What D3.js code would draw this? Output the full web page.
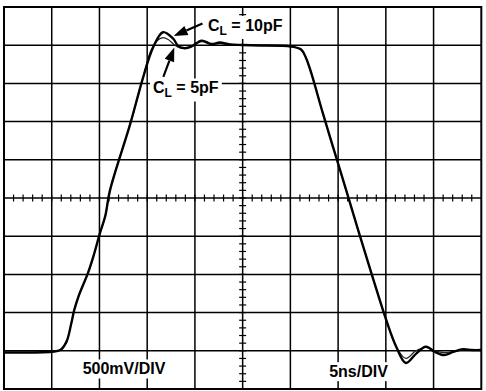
<!DOCTYPE html>
<meta charset="utf-8">
<script src="https://d3js.org/d3.v7.min.js"></script>
<style>
  body { margin: 0; background: #fff; }
  text { font-family: "Liberation Sans", Arial, sans-serif; font-weight: bold; }
</style>
<div id="scope"></div>
<script>
var width = 486
var height = 391

// time in ns (5ns/DIV), level in V (500mV/DIV)
var gridTimes = d3.range(0, 51, 5)
var gridVolts = d3.range(0, 5.01, 0.5)

// C_L = 10pF trace  [ns, V]
var trace10pF = [
  [0, 0.478], [5.0, 0.488], [5.9, 0.51], [6.55, 0.62], [7.05, 0.86], [7.35, 1.03],
  [7.8, 1.21], [8.8, 1.52], [9.35, 1.73], [10.05, 2.04], [10.6, 2.26], [11.1, 2.6],
  [13.2, 3.46], [14.6, 4.09], [15.65, 4.48], [16.65, 4.67], [17.7, 4.59], [18.25, 4.49],
  [18.95, 4.46], [19.6, 4.48], [20.7, 4.56], [21.75, 4.515], [22.6, 4.535], [23.65, 4.51],
  [25, 4.503], [26.8, 4.497], [30.05, 4.483], [31.15, 4.44], [31.65, 4.33], [32.2, 4.13],
  [33.4, 3.61], [35, 2.95], [35.85, 2.6], [37.1, 2.08], [38.5, 1.51], [40.05, 0.9],
  [41.1, 0.55], [42.1, 0.34], [43.15, 0.46], [44.2, 0.555], [45.15, 0.485], [46.1, 0.445],
  [47.05, 0.485], [48.1, 0.52], [49, 0.51], [50, 0.51]
]

// C_L = 5pF trace  [ns, V]
var trace5pF = [
  [0, 0.478], [5.0, 0.488], [5.9, 0.51], [6.55, 0.62], [7.05, 0.86], [7.35, 1.03],
  [7.8, 1.21], [8.8, 1.52], [9.35, 1.73], [10.05, 2.04], [10.6, 2.26], [11.1, 2.6],
  [13.2, 3.46], [14.6, 4.09], [15.3, 4.40], [16.0, 4.555], [16.65, 4.60], [17.2, 4.575],
  [17.9, 4.50], [18.45, 4.465], [19.05, 4.458], [19.6, 4.48], [20.7, 4.545], [21.75, 4.51],
  [22.6, 4.525], [23.65, 4.51], [25, 4.503], [26.8, 4.497], [30.05, 4.483], [31.15, 4.44],
  [31.65, 4.33], [32.2, 4.13], [33.4, 3.61], [35, 2.95], [35.85, 2.6], [37.1, 2.08],
  [38.5, 1.51], [40.05, 0.9], [41.1, 0.55], [42.1, 0.40], [43.15, 0.50], [44.2, 0.545],
  [45.15, 0.50], [46.1, 0.475], [47.05, 0.49], [48.1, 0.515], [49, 0.51], [50, 0.51]
]

// annotations, in ns / V
var labels = [
  { main: "C", sub: "L", rest: " = 10pF", t: 21.37, v: 4.686, anchor: "start" },
  { main: "C", sub: "L", rest: " = 5pF", t: 15.61, v: 3.868, anchor: "start" },
  { main: "500mV/DIV", sub: "", rest: "", t: 12.57, v: 0.19, anchor: "middle" },
  { main: "5ns/DIV", sub: "", rest: "", t: 37.14, v: 0.155, anchor: "middle" }
]
var arrows = [
  { t0: 20.79, v0: 4.784, t1: 17.76, v1: 4.62 },
  { t0: 16.69, v0: 4.084, t1: 17.84, v1: 4.47 }
]

var svg = d3.select("#scope")
  .append("svg")
    .attr("width", width)
    .attr("height", height)

var x = d3.scaleLinear().domain([0, 50]).range([4, 481.3])
var y = d3.scaleLinear().domain([0, 5]).range([389, 7])

// grid
svg.append("g")
  .selectAll("line")
  .data(gridTimes.slice(1, -1))
  .enter().append("line")
    .attr("x1", function(d){ return x(d) })
    .attr("x2", function(d){ return x(d) })
    .attr("y1", y(5))
    .attr("y2", y(0))
    .style("stroke", "black")
    .style("stroke-width", 1.5)

svg.append("g")
  .selectAll("line")
  .data(gridVolts.slice(1, -1))
  .enter().append("line")
    .attr("y1", function(d){ return y(d) })
    .attr("y2", function(d){ return y(d) })
    .attr("x1", x(0))
    .attr("x2", x(50))
    .style("stroke", "black")
    .style("stroke-width", 1.5)

// minor ticks on the centre lines
svg.append("g")
  .selectAll("line")
  .data(d3.range(1, 50))
  .enter().append("line")
    .attr("x1", function(d){ return x(d) })
    .attr("x2", function(d){ return x(d) })
    .attr("y1", y(2.5) - 3.5)
    .attr("y2", y(2.5) + 3.5)
    .style("stroke", "black")
    .style("stroke-width", 1.2)

svg.append("g")
  .selectAll("line")
  .data(d3.range(0.1, 5, 0.1))
  .enter().append("line")
    .attr("y1", function(d){ return y(d) })
    .attr("y2", function(d){ return y(d) })
    .attr("x1", x(25) - 3.5)
    .attr("x2", x(25) + 3.5)
    .style("stroke", "black")
    .style("stroke-width", 1.2)

// text labels with white boxes behind
var lab = svg.append("g")
labels.forEach(function(d){
  var g = lab.append("g")
  var txt = g.append("text")
    .attr("x", x(d.t))
    .attr("y", y(d.v))
    .attr("text-anchor", d.anchor)
    .style("font-size", "16px")
  txt.append("tspan").text(d.main)
  if (d.sub) {
    txt.append("tspan").text(d.sub).attr("dy", 4).style("font-size", "12px")
    txt.append("tspan").text(d.rest).attr("dy", -4)
  }
  var bb = txt.node().getBBox()
  g.insert("rect", "text")
    .attr("x", bb.x - 3)
    .attr("y", bb.y - 1)
    .attr("width", bb.width + 6)
    .attr("height", bb.height + 2)
    .attr("fill", "white")
})

// border
svg.append("rect")
  .attr("x", x(0))
  .attr("y", y(5))
  .attr("width", x(50) - x(0))
  .attr("height", y(0) - y(5))
  .attr("fill", "none")
  .style("stroke", "black")
  .style("stroke-width", 2)

// traces
var line = d3.line()
  .x(function(d){ return x(d[0]) })
  .y(function(d){ return y(d[1]) })
  .curve(d3.curveCatmullRom.alpha(0.5))

svg.append("path")
  .datum(trace5pF)
  .attr("d", line)
  .style("fill", "none")
  .style("stroke", "#222")
  .style("stroke-width", 1.2)

svg.append("path")
  .datum(trace10pF)
  .attr("d", line)
  .style("fill", "none")
  .style("stroke", "black")
  .style("stroke-width", 2.4)

// arrows
arrows.forEach(function(a){
  var x0 = x(a.t0), y0 = y(a.v0), x1 = x(a.t1), y1 = y(a.v1)
  var ang = Math.atan2(y1 - y0, x1 - x0)
  var len = 14, half = 5
  var bx = x1 - len * Math.cos(ang), by = y1 - len * Math.sin(ang)
  svg.append("line")
    .attr("x1", x0).attr("y1", y0)
    .attr("x2", bx).attr("y2", by)
    .style("stroke", "black")
    .style("stroke-width", 2.2)
  svg.append("path")
    .attr("d", "M" + x1 + "," + y1 +
      "L" + (bx + half * Math.sin(ang)) + "," + (by - half * Math.cos(ang)) +
      "L" + (bx - half * Math.sin(ang)) + "," + (by + half * Math.cos(ang)) + "Z")
    .attr("fill", "black")
})
</script>
